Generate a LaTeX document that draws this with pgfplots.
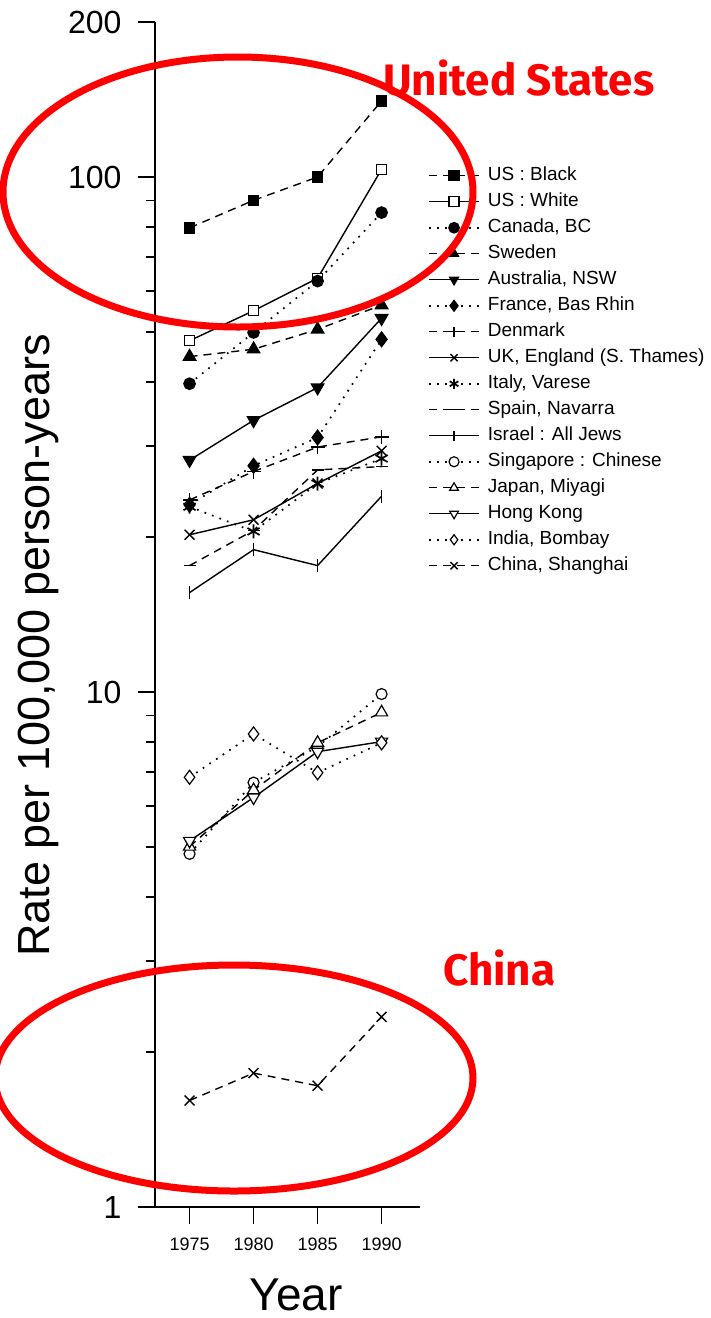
\documentclass[border=0pt]{standalone}
\usepackage{pgfplots}
\pgfplotsset{compat=1.18}
\usepackage{fontspec}
\setmainfont{Liberation Sans}
\newfontfamily\annfont{Fira Sans}
\definecolor{annred}{RGB}{255,0,0}
\pgfplotsset{
  dsh/.style={black, line width=1.4pt, dash pattern=on 8pt off 6pt},
  sld/.style={black, line width=1.4pt, solid},
  dtd/.style={black, line width=1.7pt, dash pattern=on 1.7pt off 6.3pt},
}
% x values are years minus 1970
\begin{document}
\begin{tikzpicture}
\path[use as bounding box] (0pt,0pt) rectangle (711pt,-1318pt);
\begin{scope}
\clip (0pt,0pt) rectangle (711pt,-1318pt);
\begin{axis}[
  at={(155pt,-1207pt)}, anchor=south west,
  scale only axis, width=265pt, height=1185pt,
  xmin=2.3, xmax=23, ymode=log, ymin=1, ymax=200,
  axis x line=bottom, axis y line=left,
  axis line style={-, line width=2pt},
  tick align=outside,
  major tick length=17pt, minor tick length=9pt,
  tick style={black, line width=1.8pt},
  xtick={5,10,15,20}, xticklabels={1975,1980,1985,1990},
  ytick={1,10,100,200}, yticklabels={1,10,100,200},
  minor ytick={2,3,4,5,6,7,8,9,20,30,40,50,60,70,80,90},
  yticklabel style={font=\fontsize{32}{32}\selectfont, xshift=-13pt},
  xticklabel style={font=\fontsize{18}{18}\selectfont, yshift=-10pt},
  ylabel={Rate per 100,000 person-years},
  xlabel={Year},
  every axis y label/.style={at={(axis description cs:-0.4415,0.474)}, rotate=90, anchor=center, font=\fontsize{45}{45}\selectfont},
  every axis x label/.style={at={(axis description cs:0.532,-0.0743)}, anchor=center, font=\fontsize{46}{46}\selectfont},
  /pgf/number format/assume math mode=true,
  legend style={at={(axis description cs:1.0302,0.8776)}, anchor=north west, draw=none, fill=none, inner sep=0pt,
    font=\fontsize{19}{19}\selectfont, row sep=9pt, column sep=8pt,
    nodes={inner sep=0pt, text height=13pt, text depth=4pt}},
  legend cell align=left,
  legend image code/.code={\draw[mark repeat=2,mark phase=2,mark size=5pt] plot coordinates {(0pt,0pt) (25pt,0pt) (50pt,0pt)};},
  clip=false,
]
\addplot[dsh, mark=square*, mark size=5pt, mark options={solid, fill=black}] coordinates {(5,79.7) (10,90.1) (15,100) (20,140.5)};
\addlegendentry{US : Black}
\addplot[sld, mark=square*, mark size=5pt, mark options={solid, fill=white}] coordinates {(5,48.1) (10,55.0) (15,63.6) (20,103.5)};
\addlegendentry{US : White}
\addplot[dtd, mark=*, mark size=5.5pt, mark options={solid, fill=black}] coordinates {(5,39.7) (10,49.9) (15,62.8) (20,85.3)};
\addlegendentry{Canada, BC}
\addplot[dsh, mark=triangle*, mark size=7pt, mark options={solid, fill=black}] coordinates {(5,44.8) (10,46.3) (15,50.6) (20,56.4)};
\addlegendentry{Sweden}
\addplot[sld, mark=triangle*, mark size=7pt, mark options={solid, fill=black, rotate=180}] coordinates {(5,28.2) (10,33.7) (15,39.0) (20,53.2)};
\addlegendentry{Australia, NSW}
\addplot[dtd, mark=diamond*, mark size=7pt, mark options={solid, fill=black}] coordinates {(5,23.1) (10,27.5) (15,31.2) (20,48.4)};
\addlegendentry{France, Bas Rhin}
\addplot[dsh, mark=+, mark size=7pt, mark options={solid}] coordinates {(5,23.6) (10,26.8) (15,29.9) (20,31.3)};
\addlegendentry{Denmark}
\addplot[sld, mark=x, mark size=7pt, mark options={solid}] coordinates {(5,20.2) (10,21.6) (15,25.4) (20,29.4)};
\addlegendentry{UK, England (S. Thames)}
\addplot[dtd, mark=asterisk, mark size=7pt, mark options={solid}] coordinates {(5,22.9) (10,20.5) (15,25.4) (20,28.4)};
\addlegendentry{Italy, Varese}
\addplot[dsh, mark=-, mark size=6pt, mark options={solid}] coordinates {(5,17.6) (10,20.6) (15,27.0) (20,27.4)};
\addlegendentry{Spain, Navarra}
\addplot[sld, mark=|, mark size=6.5pt, mark options={solid}] coordinates {(5,15.6) (10,18.9) (15,17.6) (20,24.0)};
\addlegendentry{Israel : All Jews}
\addplot[dtd, mark=*, mark size=5.5pt, mark options={solid, fill=white, line width=1.2pt}] coordinates {(5,4.85) (10,6.67) (15,7.83) (20,9.91)};
\addlegendentry{Singapore : Chinese}
\addplot[dsh, mark=triangle*, mark size=7pt, mark options={solid, fill=white, line width=1.2pt}] coordinates {(5,5.01) (10,6.45) (15,7.97) (20,9.13)};
\addlegendentry{Japan, Miyagi}
\addplot[sld, mark=triangle*, mark size=7pt, mark options={solid, fill=white, line width=1.2pt, rotate=180}] coordinates {(5,5.14) (10,6.24) (15,7.66) (20,8.01)};
\addlegendentry{Hong Kong}
\addplot[dtd, mark=diamond*, mark size=7pt, mark options={solid, fill=white, line width=1.2pt}] coordinates {(5,6.83) (10,8.29) (15,6.97) (20,7.97)};
\addlegendentry{India, Bombay}
\addplot[dsh, mark=x, mark size=7pt, mark options={solid}] coordinates {(5,1.61) (10,1.82) (15,1.72) (20,2.34)};
\addlegendentry{China, Shanghai}
\end{axis}
\draw[annred, line width=7pt] (238pt,-192pt) ellipse [x radius=235pt, y radius=135pt];
\draw[annred, line width=7pt] (234pt,-1078pt) ellipse [x radius=239pt, y radius=113pt];
\node[anchor=base west, inner sep=0pt, text=annred, font=\fontsize{44}{44}\annfont\bfseries] at (383pt,-95pt) {United States};
\node[anchor=base west, inner sep=0pt, text=annred, font=\fontsize{44}{44}\annfont\bfseries] at (443pt,-985pt) {China};
\end{scope}
\end{tikzpicture}
\end{document}
